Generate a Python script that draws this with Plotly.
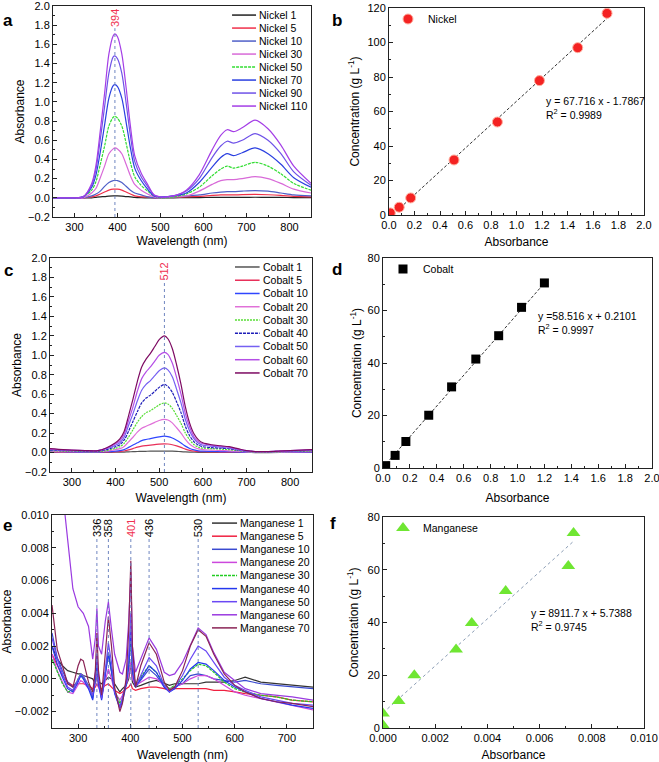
import plotly.graph_objects as go

FONT = "Liberation Sans, Arial, Helvetica, sans-serif"

# ---------------- Panel a : nickel UV-vis spectra ----------------
ni_wavelength = [250, 300, 320, 340, 350, 360, 370, 380, 390, 394, 400, 410, 420, 430, 440, 455,
                 470, 485, 500, 530, 560, 590, 620, 640, 655, 670, 690, 720, 750, 780, 810, 850]
ni_1 = [0, 0, 0, 0, 0.005, 0.01, 0.013, 0.018, 0.02, 0.02, 0.02, 0.018, 0.013, 0.01, 0.005, 0.002,
        0, 0, 0, 0, 0.002, 0.003, 0.004, 0.005, 0.005, 0.005, 0.005, 0.006, 0.005, 0.004, 0.003, 0.002]
ni_5 = [0, 0, 0, 0.01, 0.02, 0.04, 0.06, 0.08, 0.09, 0.09, 0.09, 0.08, 0.06, 0.04, 0.02, 0.01,
        0.01, 0.0, 0.0, 0.01, 0.01, 0.015, 0.025, 0.03, 0.03, 0.03, 0.033, 0.035, 0.032, 0.025, 0.015, 0.01]
ni_10 = [0, 0, 0, 0.02, 0.04, 0.07, 0.12, 0.16, 0.18, 0.18, 0.18, 0.16, 0.12, 0.08, 0.05, 0.03,
         0.01, 0.0, 0.0, 0.01, 0.02, 0.03, 0.05, 0.06, 0.065, 0.065, 0.07, 0.075, 0.07, 0.05, 0.03, 0.02]
ni_30 = [0, 0, 0, 0.05, 0.10, 0.21, 0.33, 0.46, 0.51, 0.52, 0.51, 0.46, 0.35, 0.23, 0.14, 0.08,
         0.04, 0.01, 0.0, 0.01, 0.02, 0.07, 0.14, 0.18, 0.19, 0.19, 0.20, 0.22, 0.20, 0.15, 0.09, 0.05]
ni_50 = [0, 0, 0.01, 0.08, 0.17, 0.35, 0.54, 0.75, 0.84, 0.85, 0.83, 0.75, 0.57, 0.37, 0.22, 0.13,
         0.07, 0.02, 0.0, 0.01, 0.04, 0.11, 0.23, 0.30, 0.33, 0.31, 0.33, 0.37, 0.33, 0.25, 0.15, 0.08]
ni_70 = [0, 0, 0.01, 0.11, 0.24, 0.48, 0.76, 1.04, 1.17, 1.18, 1.16, 1.04, 0.79, 0.52, 0.31, 0.18,
         0.09, 0.02, 0.01, 0.02, 0.05, 0.16, 0.32, 0.42, 0.46, 0.44, 0.47, 0.52, 0.46, 0.35, 0.21, 0.11]
ni_90 = [0, 0, 0.01, 0.13, 0.30, 0.61, 0.95, 1.30, 1.47, 1.48, 1.45, 1.30, 0.99, 0.65, 0.38, 0.22,
         0.12, 0.03, 0.01, 0.02, 0.07, 0.20, 0.42, 0.54, 0.59, 0.57, 0.60, 0.67, 0.60, 0.46, 0.27, 0.13]
ni_110 = [0, 0, 0.01, 0.15, 0.34, 0.70, 1.09, 1.50, 1.69, 1.71, 1.68, 1.50, 1.15, 0.75, 0.44, 0.26,
          0.14, 0.03, 0.01, 0.02, 0.08, 0.24, 0.50, 0.65, 0.71, 0.69, 0.73, 0.81, 0.72, 0.55, 0.33, 0.15]
ni_labels = ["Nickel 1", "Nickel 5", "Nickel 10", "Nickel 30", "Nickel 50", "Nickel 70", "Nickel 90", "Nickel 110"]
ni_peaks = [394]

# ---------------- Panel b : nickel calibration ----------------
ni_absorbance = [0.01, 0.08, 0.17, 0.51, 0.85, 1.18, 1.48, 1.71]
ni_concentration = [1.2, 4.5, 9.9, 31.9, 53.9, 77.9, 97.0, 116.9]
ni_fit_slope, ni_fit_intercept = 67.716, -1.7867
ni_fit_text = "y = 67.716 x - 1.7867<br>R<sup>2</sup> = 0.9989"

# ---------------- Panel c : cobalt UV-vis spectra ----------------
co_wavelength = [250, 280, 300, 330, 360, 380, 400, 410, 420, 430, 440, 450, 460, 470, 480, 490, 500, 512,
                 520, 530, 540, 550, 560, 570, 580, 590, 600, 620, 640, 660, 680, 700, 720, 750, 800, 850]
co_1 = [0.004, 0.003, 0.002, 0.001, 0.001, 0.002, 0.003, 0.004, 0.005, 0.007, 0.009, 0.011, 0.012, 0.013, 0.014, 0.014, 0.015, 0.015,
        0.015, 0.014, 0.012, 0.009, 0.006, 0.004, 0.003, 0.002, 0.002, 0.002, 0.002, 0.002, 0.001, 0.001, 0.0, 0.0, 0.001, 0.001]
co_5 = [0.005, 0.004, 0.003, 0.002, 0.002, 0.004, 0.0075, 0.01, 0.016, 0.028, 0.041, 0.055, 0.066, 0.072, 0.077, 0.082, 0.087, 0.09,
        0.088, 0.08, 0.068, 0.053, 0.035, 0.022, 0.014, 0.01, 0.008, 0.006, 0.005, 0.004, 0.003, 0.002, 0.001, 0.001, 0.002, 0.003]
co_10 = [0.01, 0.008, 0.006, 0.005, 0.005, 0.008, 0.015, 0.02, 0.03, 0.053, 0.077, 0.10, 0.123, 0.134, 0.143, 0.153, 0.162, 0.168,
         0.164, 0.15, 0.126, 0.098, 0.066, 0.042, 0.027, 0.018, 0.014, 0.012, 0.01, 0.008, 0.006, 0.003, 0.002, 0.002, 0.003, 0.005]
co_20 = [0.015, 0.01, 0.01, 0.01, 0.01, 0.015, 0.03, 0.04, 0.063, 0.11, 0.157, 0.21, 0.25, 0.27, 0.29, 0.31, 0.33, 0.34,
         0.335, 0.305, 0.255, 0.20, 0.135, 0.085, 0.055, 0.037, 0.03, 0.025, 0.02, 0.018, 0.012, 0.006, 0.003, 0.003, 0.006, 0.01]
co_30 = [0.02, 0.015, 0.015, 0.01, 0.01, 0.02, 0.045, 0.06, 0.095, 0.16, 0.235, 0.31, 0.37, 0.41, 0.43, 0.46, 0.49, 0.51,
         0.50, 0.455, 0.38, 0.30, 0.20, 0.13, 0.08, 0.055, 0.045, 0.04, 0.035, 0.03, 0.02, 0.01, 0.005, 0.005, 0.01, 0.015]
co_40 = [0.025, 0.02, 0.02, 0.015, 0.015, 0.03, 0.06, 0.08, 0.13, 0.22, 0.32, 0.42, 0.51, 0.56, 0.59, 0.63, 0.67, 0.70,
         0.68, 0.62, 0.52, 0.41, 0.27, 0.17, 0.11, 0.075, 0.06, 0.05, 0.045, 0.04, 0.025, 0.015, 0.01, 0.01, 0.015, 0.02]
co_50 = [0.03, 0.025, 0.02, 0.02, 0.02, 0.04, 0.075, 0.10, 0.16, 0.28, 0.40, 0.53, 0.64, 0.70, 0.74, 0.79, 0.84, 0.87,
         0.85, 0.78, 0.65, 0.51, 0.34, 0.22, 0.14, 0.095, 0.075, 0.065, 0.055, 0.045, 0.03, 0.015, 0.01, 0.01, 0.015, 0.025]
co_60 = [0.035, 0.03, 0.025, 0.02, 0.02, 0.045, 0.09, 0.12, 0.19, 0.33, 0.47, 0.63, 0.76, 0.83, 0.88, 0.94, 1.00, 1.03,
         1.01, 0.92, 0.77, 0.60, 0.40, 0.26, 0.16, 0.11, 0.09, 0.075, 0.065, 0.055, 0.035, 0.02, 0.01, 0.01, 0.02, 0.03]
co_70 = [0.04, 0.03, 0.025, 0.02, 0.02, 0.05, 0.10, 0.14, 0.22, 0.38, 0.55, 0.73, 0.88, 0.96, 1.02, 1.09, 1.16, 1.20,
         1.17, 1.07, 0.90, 0.70, 0.47, 0.30, 0.19, 0.13, 0.10, 0.08, 0.07, 0.06, 0.04, 0.02, 0.01, 0.01, 0.02, 0.03]
co_labels = ["Cobalt 1", "Cobalt 5", "Cobalt 10", "Cobalt 20", "Cobalt 30", "Cobalt 40", "Cobalt 50", "Cobalt 60", "Cobalt 70"]
co_peaks = [512]

# ---------------- Panel d : cobalt calibration ----------------
co_absorbance = [0.02, 0.09, 0.17, 0.34, 0.51, 0.69, 0.86, 1.03, 1.20]
co_concentration = [0.9, 4.8, 10.1, 20.1, 30.9, 41.5, 50.4, 61.2, 70.5]
co_fit_slope, co_fit_intercept = 58.516, 0.2101
co_fit_text = "y =58.516 x + 0.2101<br>R<sup>2</sup> = 0.9997"

# ---------------- Panel e : manganese UV-vis spectra (values in 10^-3 absorbance units) ----------------
mn_wavelength = [250, 260, 270, 280, 290, 300, 305, 310, 320, 328, 333, 336, 339, 345, 352, 358, 364, 370, 380, 385, 392,
                 397, 401, 404, 410, 420, 436, 450, 465, 475, 485, 500, 515, 530, 545, 560, 580, 600, 620, 650, 680, 710, 750]
mn_1_mAU = [2.0, 1.2, 0.8, 0.5, 0.4, 0.3, 0.3, 0.2, 0.1, 0.0, -0.3, 0.2, -0.2, -0.3, -0.1, 0.1, 0.0, -0.3, -0.8, -0.6, -0.4,
            0.0, 1.0, -0.2, -0.5, -0.4, -0.2, -0.1, -0.3, -0.4, -0.3, -0.3, -0.3, -0.3, -0.2, -0.2, -0.2, -0.1, 0.1, -0.2, -0.3, -0.4, -0.5]
mn_5_mAU = [1.5, 0.8, 0.2, -0.2, -0.4, -0.3, -0.3, -0.3, -0.4, -0.6, -0.5, -0.3, -0.5, -0.6, -0.4, -0.3, -0.5, -0.7, -0.9, -0.8, -0.6,
            -0.5, -0.3, -0.6, -0.7, -0.6, -0.5, -0.5, -0.6, -0.7, -0.6, -0.6, -0.6, -0.6, -0.6, -0.7, -0.7, -0.8, -0.9, -1.0, -1.1, -1.3, -1.4]
mn_10_mAU = [2.8, 1.3, 0.5, -0.2, -0.5, -0.1, 0.2, 0.1, -0.4, -1.2, 0.0, 1.5, -0.2, -1.2, 0.3, 1.5, 0.4, -0.8, -1.7, -1.2, -0.3,
             0.8, 2.5, 0.3, -0.5, -0.1, 0.6, 0.2, -0.5, -0.8, -0.5, -0.3, 0.2, 0.3, 0.2, 0.0, -0.1, -0.2, -0.1, -0.3, -0.4, -0.5, -0.6]
mn_20_mAU = [1.5, 0.5, -0.2, -0.8, -0.9, -0.4, -0.1, -0.2, -0.6, -1.0, -0.3, 0.5, -0.5, -1.0, -0.2, 0.6, 0.0, -0.8, -1.3, -1.0, -0.4,
             0.2, 1.0, 0.0, -0.4, -0.2, 0.1, 0.0, -0.4, -0.6, -0.5, -0.3, 0.0, 0.2, 0.2, 0.0, -0.4, -0.8, -1.0, -1.2, -1.4, -1.6, -1.9]
mn_30_mAU = [1.2, 0.4, -0.3, -0.8, -0.7, 0.0, 0.3, 0.1, -0.4, -1.0, 0.0, 0.9, -0.2, -1.0, 0.4, 1.6, 0.5, -0.7, -1.5, -1.2, -0.3,
             0.8, 2.5, 0.5, -0.3, 0.1, 0.8, 0.4, -0.3, -0.6, -0.4, 0.0, 0.5, 0.9, 0.8, 0.4, -0.2, -0.6, -0.8, -1.0, -1.1, -1.3, -1.4]
mn_40_mAU = [2.0, 0.9, 0.1, -0.6, -0.8, -0.2, 0.2, 0.0, -0.6, -1.3, 0.0, 1.0, -0.3, -1.3, 0.2, 1.6, 0.5, -0.9, -1.8, -1.4, -0.4,
             0.8, 3.0, 0.5, -0.5, 0.0, 0.8, 0.4, -0.5, -0.8, -0.6, -0.1, 0.6, 1.0, 0.9, 0.5, -0.1, -0.5, -0.8, -1.2, -1.4, -1.6, -1.8]
mn_50_mAU = [2.5, 1.2, 0.3, -0.5, -0.7, 0.0, 0.3, 0.2, -0.5, -1.0, 0.3, 1.5, 0.0, -1.2, 0.5, 2.2, 1.0, -0.8, -1.8, -1.2, -0.2,
             1.5, 4.0, 1.0, -0.5, 0.2, 1.3, 0.8, -0.4, -0.8, -0.5, 0.2, 1.2, 2.0, 1.7, 1.0, 0.1, -0.4, -0.7, -1.1, -1.3, -1.5, -1.6]
mn_60_mAU = [20.0, 16.0, 11.5, 8.5, 5.5, 4.4, 4.2, 4.0, 3.2, 1.2, 2.5, 4.3, 2.0, 1.5, 3.5, 4.7, 3.0, 1.5, 0.4, 0.3, 1.2,
             3.5, 6.5, 2.0, 0.4, 1.2, 2.5, 1.8, 0.4, 0.2, 0.3, 1.0, 2.0, 3.1, 2.7, 1.6, 0.4, -0.1, -0.6, -0.9, -1.0, -1.1, -1.3]
mn_70_mAU = [4.5, 1.8, 0.8, -0.3, -0.5, 0.8, 1.2, 1.1, -0.2, -0.8, 0.5, 2.8, 0.5, -1.0, 1.5, 3.8, 2.0, -0.5, -2.0, -1.5, 0.0,
             3.0, 7.2, 2.0, -0.5, 0.8, 2.2, 1.5, -0.2, -0.7, -0.5, 0.5, 2.0, 3.0, 2.6, 1.5, 0.3, -0.4, -0.8, -1.2, -1.4, -1.5, -1.7]
mn_labels = ["Manganese 1", "Manganese 5", "Manganese 10", "Manganese 20", "Manganese 30",
             "Manganese 40", "Manganese 50", "Manganese 60", "Manganese 70"]
mn_peaks = [336, 358, 401, 436, 530]
mn_peak_is_main = [False, False, True, False, False]

# ---------------- Panel f : manganese calibration ----------------
mn_absorbance = [0.0, 0.0, 0.0006, 0.0012, 0.0028, 0.0034, 0.0047, 0.0071, 0.0073]
mn_concentration = [1.0, 5.5, 10.2, 20.0, 29.8, 39.8, 51.9, 61.4, 73.9]
mn_fit_slope, mn_fit_intercept = 8911.7, 5.7388
mn_fit_text = "y = 8911.7 x + 5.7388<br>R<sup>2</sup> = 0.9745"

# ---------------- styles ----------------
ni_colors = ["#222222", "#f0304a", "#4f5fc8", "#d86ad8", "#33dd33", "#2a3fe0", "#6f52e8", "#a43ee6"]
ni_dashes = ["solid", "solid", "solid", "solid", "3px,1px", "solid", "solid", "solid"]
co_colors = ["#555555", "#e8305a", "#2f46ff", "#e070d8", "#55dd33", "#1c1cb8", "#7560f2", "#b44ee6", "#7d0a62"]
co_dashes = ["solid", "solid", "solid", "solid", "2px,1px", "3px,1px", "solid", "solid", "solid"]
mn_colors = ["#333333", "#f02040", "#3a4ad0", "#cc48dd", "#22cc22", "#2438ee", "#6a48f4", "#9a3ae0", "#8a2456"]
mn_dashes = ["solid", "solid", "solid", "solid", "3px,1px", "solid", "solid", "solid", "solid"]
PEAK_LINE = "#6f86c0"
PEAK_RED = "#f03050"
W, H = 659, 762
SMALL = 10.5

fig = go.Figure()


def spectra(xname, yname, wl, series, labels, colors, dashes, shape, scale=1.0):
    for ys, lab, col, da in zip(series, labels, colors, dashes):
        fig.add_trace(go.Scatter(
            x=wl, y=[v * scale for v in ys], mode="lines", name=lab, showlegend=False,
            line=dict(color=col, width=1.2, dash=da, shape=shape, smoothing=0.8 if shape == "spline" else None),
            xaxis=xname, yaxis=yname, hoverinfo="skip"))


def manual_legend(xn, yn, labels, colors, dashes, x0, x1, xt, ytop, dy):
    for i, (lab, col, da) in enumerate(zip(labels, colors, dashes)):
        yy = ytop - i * dy
        fig.add_shape(type="line", xref=xn + " domain", yref=yn + " domain", x0=x0, x1=x1, y0=yy, y1=yy,
                      line=dict(color=col, width=1.5, dash=da))
        fig.add_annotation(xref=xn + " domain", yref=yn + " domain", x=xt, y=yy, text=lab, showarrow=False,
                           xanchor="left", yanchor="middle", borderpad=0,
                           font=dict(size=SMALL, color="black", family=FONT))


def peak_marks(xn, yn, peaks, reds, line_top, label_top):
    for p, red in zip(peaks, reds):
        fig.add_shape(type="line", xref=xn, yref=yn + " domain", x0=p, x1=p, y0=0, y1=line_top,
                      line=dict(color=PEAK_LINE, width=1, dash="dot"))
        fig.add_annotation(xref=xn, yref=yn + " domain", x=p, y=label_top, text=str(p), showarrow=False,
                           textangle=-90, xanchor="center", yanchor="top", borderpad=0,
                           font=dict(size=11, color=PEAK_RED if red else "black", family=FONT))


def calibration(xname, yname, xs, ys, slope, intercept, marker, name, legend, fitcolor, fitdash):
    fx = [0.0, max(xs)]
    fig.add_trace(go.Scatter(x=fx, y=[slope * v + intercept for v in fx], mode="lines", showlegend=False,
                             line=dict(color=fitcolor, width=1, dash=fitdash), xaxis=xname, yaxis=yname,
                             hoverinfo="skip"))
    fig.add_trace(go.Scatter(x=xs, y=ys, mode="markers", name=name, marker=marker, legend=legend,
                             xaxis=xname, yaxis=yname, hoverinfo="skip"))


# Panel a
spectra("x", "y", ni_wavelength, [ni_1, ni_5, ni_10, ni_30, ni_50, ni_70, ni_90, ni_110],
        ni_labels, ni_colors, ni_dashes, "spline")
peak_marks("x", "y", ni_peaks, [True], 0.895, 0.99)
manual_legend("x", "y", ni_labels, ni_colors, ni_dashes, 0.694, 0.787, 0.795, 0.957, 0.0616)

# Panel b
calibration("x2", "y2", ni_absorbance, ni_concentration, ni_fit_slope, ni_fit_intercept,
            dict(symbol="circle", size=10, color="#f42222", line=dict(color="#ffb0a0", width=1)),
            "Nickel", "legend", "#333333", "3px,2px")
fig.add_annotation(xref="x2", yref="y2", x=1.215, y=62.3, text=ni_fit_text, showarrow=False, align="left",
                   xanchor="left", yanchor="middle", font=dict(size=SMALL, color="black", family=FONT))

# Panel c
spectra("x3", "y3", co_wavelength, [co_1, co_5, co_10, co_20, co_30, co_40, co_50, co_60, co_70],
        co_labels, co_colors, co_dashes, "spline")
peak_marks("x3", "y3", co_peaks, [True], 0.905, 0.985)
manual_legend("x3", "y3", co_labels, co_colors, co_dashes, 0.706, 0.80, 0.808, 0.958, 0.0619)

# Panel d
calibration("x4", "y4", co_absorbance, co_concentration, co_fit_slope, co_fit_intercept,
            dict(symbol="square", size=9, color="black"), "Cobalt", "legend2", "#333333", "3px,2px")
fig.add_annotation(xref="x4", yref="y4", x=1.14, y=55.3, text=co_fit_text, showarrow=False, align="left",
                   xanchor="left", yanchor="middle", font=dict(size=SMALL, color="black", family=FONT))

# Panel e
spectra("x5", "y5", mn_wavelength,
        [mn_1_mAU, mn_5_mAU, mn_10_mAU, mn_20_mAU, mn_30_mAU, mn_40_mAU, mn_50_mAU, mn_60_mAU, mn_70_mAU],
        mn_labels, mn_colors, mn_dashes, "linear", scale=1e-3)
peak_marks("x5", "y5", mn_peaks, mn_peak_is_main, 0.9, 0.985)
manual_legend("x5", "y5", mn_labels, mn_colors, mn_dashes, 0.613, 0.709, 0.717, 0.962, 0.0615)

# Panel f
calibration("x6", "y6", mn_absorbance, mn_concentration, mn_fit_slope, mn_fit_intercept,
            dict(symbol="triangle-up", size=12, color="#6fe632"), "Manganese", "legend3", "#8a9cb4", "dot")
fig.add_annotation(xref="x6", yref="y6", x=0.0056, y=41.0, text=mn_fit_text, showarrow=False, align="left",
                   xanchor="left", yanchor="middle", font=dict(size=SMALL, color="black", family=FONT))

# panel letters
for letter, px, py in [("a", 8, 20), ("b", 337, 20), ("c", 8, 270), ("d", 337, 269), ("e", 7, 525), ("f", 333, 523)]:
    fig.add_annotation(xref="paper", yref="paper", x=px / W, y=1 - py / H, text="<b>%s</b>" % letter,
                       showarrow=False, xanchor="center", yanchor="middle",
                       font=dict(size=17, color="black", family=FONT))


def ax(**kw):
    d = dict(showline=True, linecolor="#222222", linewidth=1, mirror=True, ticks="inside", ticklen=4,
             tickwidth=1, tickcolor="#222222", showgrid=False, zeroline=False, automargin=False,
             ticklabeloverflow="allow",
             tickfont=dict(size=11, color="black", family=FONT),
             title=dict(font=dict(size=12, color="black", family=FONT), standoff=kw.pop("standoff", 3)))
    mdt = kw.pop("minor_dtick", None)
    d["title"]["text"] = kw.pop("title_text", "")
    if mdt is not None:
        d["minor"] = dict(dtick=mdt, ticks="inside", ticklen=2, tickcolor="#222222", showgrid=False)
    d.update(kw)
    return d


def xdom(left, right):
    return [left / W, right / W]


def ydom(top, bottom):
    return [1 - bottom / H, 1 - top / H]


WL = "Wavelength (nm)"
AB = "Absorbance"
CONC = "Concentration (g L<sup>-1</sup>)"

legend_common = dict(bgcolor="rgba(0,0,0,0)", borderwidth=0, font=dict(size=SMALL, color="black", family=FONT),
                     xanchor="left", yanchor="middle", xref="paper", yref="paper")

fig.update_layout(
    template="none",
    width=W, height=H, margin=dict(l=0, r=0, t=0, b=0, pad=0), autosize=False,
    paper_bgcolor="white", plot_bgcolor="white",
    font=dict(family=FONT, color="black"),
    xaxis=ax(domain=xdom(53, 311), anchor="y", range=[250, 850], tick0=0, dtick=100, minor_dtick=50,
             title_text=WL, standoff=4),
    yaxis=ax(domain=ydom(6, 217), anchor="x", range=[-0.2, 2.0], tick0=0, dtick=0.2, tickformat=".1f",
             minor_dtick=0.1, title_text=AB, standoff=0),
    xaxis2=ax(domain=xdom(389, 644), anchor="y2", range=[0, 2.0], tick0=0, dtick=0.2, tickformat=".1f",
              minor_dtick=0.1, title_text=AB, standoff=7),
    yaxis2=ax(domain=ydom(8, 215), anchor="x2", range=[0, 120], tick0=0, dtick=20, minor_dtick=10,
              title_text=CONC, standoff=5),
    xaxis3=ax(domain=xdom(50, 312), anchor="y3", range=[250, 850], tick0=0, dtick=100, minor_dtick=50,
              title_text=WL, standoff=6),
    yaxis3=ax(domain=ydom(258, 472), anchor="x3", range=[-0.2, 2.0], tick0=0, dtick=0.2, tickformat=".1f",
              minor_dtick=0.1, title_text=AB, standoff=0),
    xaxis4=ax(domain=xdom(383, 652), anchor="y4", range=[0, 2.0], tick0=0, dtick=0.2, tickformat=".1f",
              minor_dtick=0.1, title_text=AB, standoff=10),
    yaxis4=ax(domain=ydom(258, 468), anchor="x4", range=[0, 80], tick0=0, dtick=20, minor_dtick=10,
              title_text=CONC, standoff=3),
    xaxis5=ax(domain=xdom(52, 313), anchor="y5", range=[250, 750], tick0=0, dtick=100, minor_dtick=50,
              title_text=WL, standoff=7),
    yaxis5=ax(domain=ydom(515, 728), anchor="x5", range=[-0.003, 0.010], tick0=0, dtick=0.002, tickformat=".3f",
              minor_dtick=0.001, title_text=AB, standoff=1),
    xaxis6=ax(domain=xdom(383, 644), anchor="y6", range=[0, 0.010], tick0=0, dtick=0.002, tickformat=".3f",
              minor_dtick=0.001, title_text=AB, standoff=11),
    yaxis6=ax(domain=ydom(517, 728), anchor="x6", range=[0, 80], tick0=0, dtick=20, minor_dtick=10,
              title_text=CONC, standoff=6),
    legend=dict(x=(408 - 20) / W, y=1 - 19 / H, **legend_common),
    legend2=dict(x=(403 - 20) / W, y=1 - 269 / H, **legend_common),
    legend3=dict(x=(403 - 20) / W, y=1 - 528 / H, **legend_common),
    hovermode=False,
)

# the page body gets no default 8px margin, so the 659x762 figure fills the window exactly
fig.write_html("out.html", config={"displayModeBar": False, "staticPlot": True},
               post_script="document.body.style.margin='0px';")
